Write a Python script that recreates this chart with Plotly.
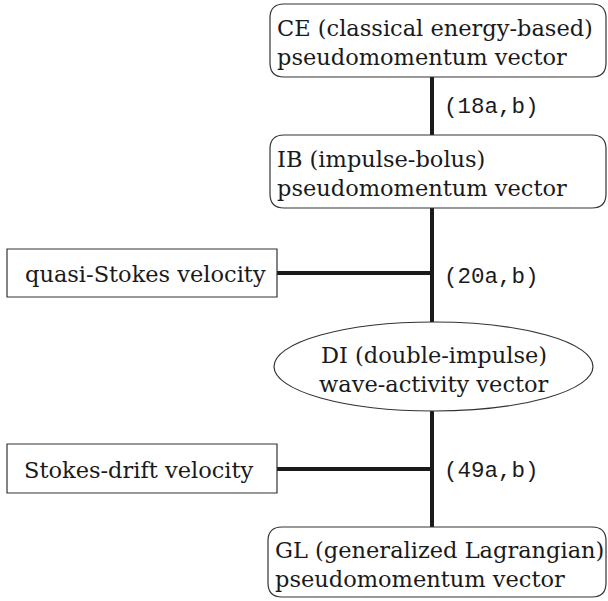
import plotly.graph_objects as go

# ---- content ----
node_ids = ["CE", "IB", "QS", "DI", "SD", "GL"]
node_lines = [
    ["CE (classical energy-based)", "pseudomomentum vector"],
    ["IB (impulse-bolus)", "pseudomomentum vector"],
    ["quasi-Stokes velocity"],
    ["DI (double-impulse)", "wave-activity vector"],
    ["Stokes-drift velocity"],
    ["GL (generalized Lagrangian)", "pseudomomentum vector"],
]
edge_labels = ["(18a,b)", "(20a,b)", "(49a,b)"]

# ---- geometry (pixels, y downward) ----
W, H = 608, 601
SPINE_X = 432
boxes = {
    "CE": dict(kind="round", x0=270, x1=606, y0=4, y1=77, tx=275, anchor="left", dy=2),
    "IB": dict(kind="round", x0=270, x1=606, y0=135, y1=208, tx=275, anchor="left", dy=2),
    "QS": dict(kind="rect", x0=7, x1=277, y0=249, y1=297, tx=23, anchor="left", dy=1),
    "DI": dict(kind="ellipse", x0=274, x1=593, y0=322, y1=411, tx=434, anchor="center", dy=3),
    "SD": dict(kind="rect", x0=7, x1=277, y0=444, y1=493, tx=22, anchor="left", dy=1),
    "GL": dict(kind="round", x0=268, x1=606, y0=527, y1=597, tx=273, anchor="left", dy=2),
}
line_gap = 29
edge_label_y = [107, 277, 471]
side_link_y = {"QS": 273, "SD": 469}

SERIF = "DejaVu Serif"
MONO = "Liberation Mono"
TEXT_COLOR = "#1a1a1a"


def rounded_path(x0, y0, x1, y1, r):
    return (f"M {x0+r},{y0} L {x1-r},{y0} Q {x1},{y0} {x1},{y0+r} "
            f"L {x1},{y1-r} Q {x1},{y1} {x1-r},{y1} L {x0+r},{y1} "
            f"Q {x0},{y1} {x0},{y1-r} L {x0},{y0+r} Q {x0},{y0} {x0+r},{y0} Z")


fig = go.Figure()
shapes = []
annotations = []

# spine segments between nodes
spine_order = ["CE", "IB", "DI", "GL"]
for a, b in zip(spine_order[:-1], spine_order[1:]):
    shapes.append(dict(type="line", x0=SPINE_X, x1=SPINE_X,
                       y0=boxes[a]["y1"], y1=boxes[b]["y0"],
                       line=dict(color="#1a1a1a", width=4), layer="above"))
# side links
for k, yy in side_link_y.items():
    shapes.append(dict(type="line", x0=boxes[k]["x1"], x1=SPINE_X, y0=yy, y1=yy,
                       line=dict(color="#1a1a1a", width=4), layer="above"))

for nid, lines in zip(node_ids, node_lines):
    b = boxes[nid]
    style = dict(line=dict(color="#333333", width=1.2), fillcolor="white", layer="above")
    if b["kind"] == "round":
        shapes.append(dict(type="path", path=rounded_path(b["x0"], b["y0"], b["x1"], b["y1"], 14), **style))
    elif b["kind"] == "rect":
        shapes.append(dict(type="rect", x0=b["x0"], x1=b["x1"], y0=b["y0"], y1=b["y1"], **style))
    else:
        shapes.append(dict(type="circle", x0=b["x0"], x1=b["x1"], y0=b["y0"], y1=b["y1"], **style))
    cy = (b["y0"] + b["y1"]) / 2 + b["dy"]
    n = len(lines)
    for i, t in enumerate(lines):
        yy = cy + (i - (n - 1) / 2) * line_gap
        annotations.append(dict(x=b["tx"], y=yy, text=t, showarrow=False,
                                xanchor=b["anchor"], yanchor="middle",
                                font=dict(family=SERIF, size=22.5, color=TEXT_COLOR)))

for t, yy in zip(edge_labels, edge_label_y):
    annotations.append(dict(x=442, y=yy, text=t, showarrow=False, xanchor="left",
                            yanchor="middle",
                            font=dict(family=MONO, size=22.5, color=TEXT_COLOR)))

fig.update_layout(
    width=W, height=H, autosize=False,
    margin=dict(l=0, r=0, t=0, b=0),
    paper_bgcolor="white", plot_bgcolor="white",
    xaxis=dict(range=[0, W], visible=False, fixedrange=True),
    yaxis=dict(range=[H, 0], visible=False, fixedrange=True),
    shapes=shapes, annotations=annotations, showlegend=False,
)
fig.write_html("out.html", config={"displayModeBar": False},
               post_script="document.body.style.margin='0';document.body.style.overflow='hidden';")
